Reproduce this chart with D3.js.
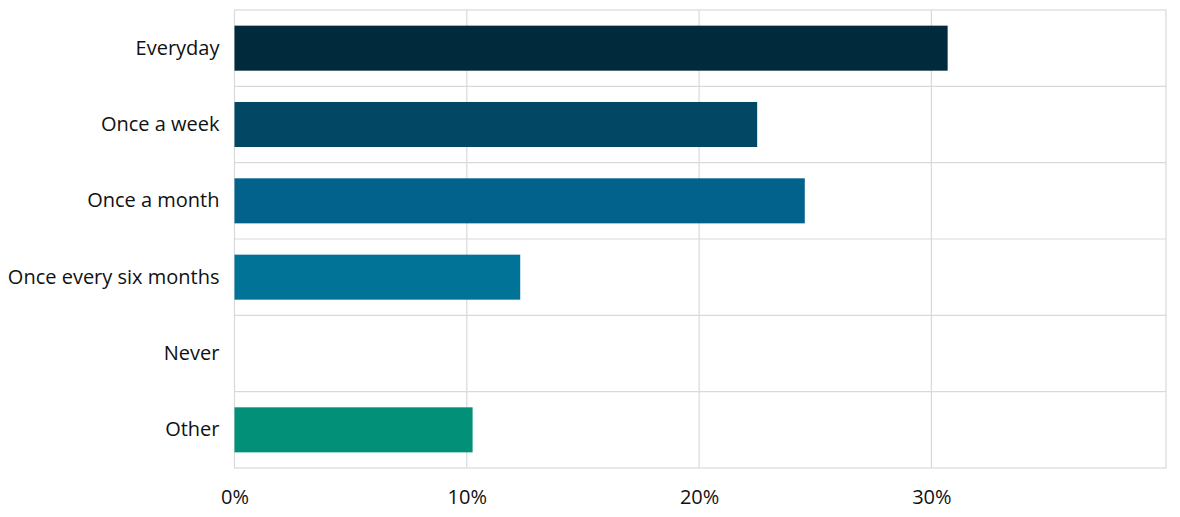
<!DOCTYPE html>
<html><head><meta charset="utf-8">
<script src="https://cdn.jsdelivr.net/npm/d3@7"></script>
<style>body{margin:0;background:#fff}svg{display:block}</style>
</head><body><svg id="c" width="1180" height="517"></svg>
<script>
const categories = ["Everyday","Once a week","Once a month","Once every six months","Never","Other"];
const values = [30.7, 22.5, 24.55, 12.3, 0, 10.25];
const colors = ["#022a3d","#024764","#02628c","#017397","#017397","#029078"];
const tickValues = [0,10,20,30];
const tickLabels = ["0%","10%","20%","30%"];

const svg = d3.select("#c");
const L = 234.5, R = 1166, T = 10, B = 468;
const x = d3.scaleLinear().domain([0, 40.1]).range([L, R]);
const y = d3.scaleBand().domain(categories).range([T, B]).paddingInner(0.41).paddingOuter(0.205);
const yb = d3.scaleBand().domain(categories).range([T, B]);
const font = "'Open Sans', 'Segoe UI', sans-serif";

// frame + gridlines
const g = svg.append("g");
g.append("rect").attr("x", L).attr("y", T).attr("width", R - L).attr("height", B - T)
  .attr("fill", "none").attr("stroke", "#d9d9d9").attr("stroke-width", 1.2);
g.selectAll("line.h").data(categories.slice(1)).enter().append("line")
  .attr("x1", L).attr("x2", R).attr("y1", d => yb(d)).attr("y2", d => yb(d))
  .attr("stroke", "#d9d9d9").attr("stroke-width", 1.2);
g.selectAll("line.v").data(tickValues.slice(1)).enter().append("line")
  .attr("x1", d => x(d)).attr("x2", d => x(d)).attr("y1", T).attr("y2", B)
  .attr("stroke", "#d9d9d9").attr("stroke-width", 1.2);

// bars
svg.selectAll("rect.bar").data(categories).enter().append("rect")
  .attr("class", "bar")
  .attr("x", x(0)).attr("y", d => y(d))
  .attr("width", (d, i) => x(values[i]) - x(0))
  .attr("height", y.bandwidth())
  .attr("fill", (d, i) => colors[i]);

// y labels
const yAxis = d3.axisLeft(yb).tickSize(0).tickPadding(15);
const ya = svg.append("g").attr("transform", `translate(${L},0)`).call(yAxis);
ya.select(".domain").remove();
ya.selectAll("text").attr("font-family", font).attr("font-size", 20).attr("fill", "#111");

// x labels
const xAxis = d3.axisBottom(x).tickValues(tickValues).tickFormat((d, i) => tickLabels[i]).tickSize(0).tickPadding(22);
const xa = svg.append("g").attr("transform", `translate(0,${B})`).call(xAxis);
xa.select(".domain").remove();
xa.selectAll("text").attr("font-family", font).attr("font-size", 20).attr("fill", "#111");
</script></body></html>
